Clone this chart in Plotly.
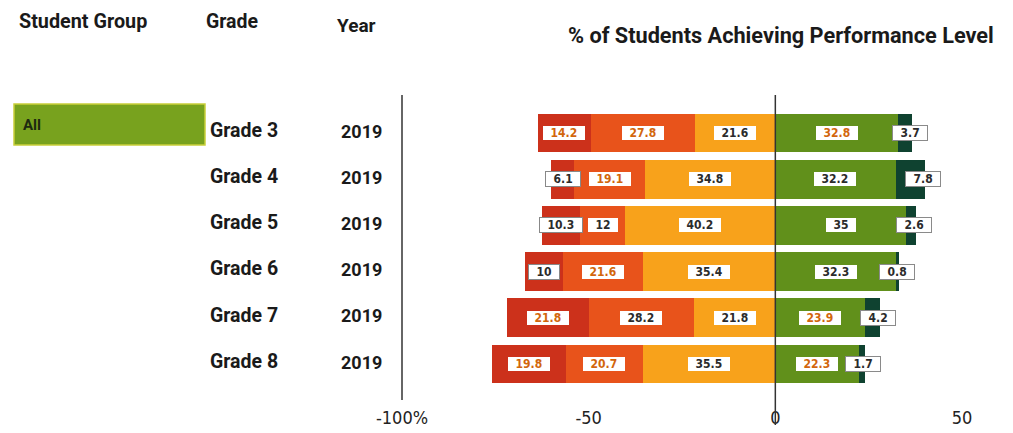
import plotly.graph_objects as go

grades = ["Grade 3", "Grade 4", "Grade 5", "Grade 6", "Grade 7", "Grade 8"]
years = ["2019", "2019", "2019", "2019", "2019", "2019"]
level1 = [14.2, 6.1, 10.3, 10, 21.8, 19.8]
level2 = [27.8, 19.1, 12, 21.6, 28.2, 20.7]
level3 = [21.6, 34.8, 40.2, 35.4, 21.8, 35.5]
level4 = [32.8, 32.2, 35, 32.3, 23.9, 22.3]
level5 = [3.7, 7.8, 2.6, 0.8, 4.2, 1.7]
tick_vals = [-100, -50, 0, 50]
tick_text = ["-100%", "-50", "0", "50"]

ORANGE_T = "#d2660c"
DARK_T = "#2b2b2b"
l1_tc = [ORANGE_T, DARK_T, DARK_T, DARK_T, ORANGE_T, ORANGE_T]
l2_tc = [ORANGE_T, ORANGE_T, DARK_T, ORANGE_T, DARK_T, ORANGE_T]
l3_tc = [DARK_T] * 6
l4_tc = [ORANGE_T, DARK_T, DARK_T, DARK_T, ORANGE_T, ORANGE_T]
l5_tc = [DARK_T] * 6

colors = {
    "l1": "#cc311b",
    "l2": "#e8531b",
    "l3": "#f8a21b",
    "l4": "#61901b",
    "l5": "#0f4230",
}

# page offset (default body margin of the html page)
OFF = 8
FIG_W, FIG_H = 1013 - OFF, 433 - OFF
PLOT_BOTTOM = 405  # window px
PLOT_H = PLOT_BOTTOM - OFF

ys = list(range(len(grades)))
fig = go.Figure()
bw = 0.84
fig.add_trace(go.Bar(y=ys, x=[-v for v in level3], orientation="h", marker=dict(color=colors["l3"], line_width=0), width=bw, name="Level 3"))
fig.add_trace(go.Bar(y=ys, x=[-v for v in level2], orientation="h", marker=dict(color=colors["l2"], line_width=0), width=bw, name="Level 2"))
fig.add_trace(go.Bar(y=ys, x=[-v for v in level1], orientation="h", marker=dict(color=colors["l1"], line_width=0), width=bw, name="Level 1"))
fig.add_trace(go.Bar(y=ys, x=level4, orientation="h", marker=dict(color=colors["l4"], line_width=0), width=bw, name="Level 4"))
fig.add_trace(go.Bar(y=ys, x=level5, orientation="h", marker=dict(color=colors["l5"], line_width=0), width=bw, name="Level 5"))

LBL_FONT = "Liberation Sans Narrow, DejaVu Sans Condensed, Arial Narrow, sans-serif"
annotations = []

def box(x, y, val, color, border=None):
    annotations.append(dict(
        x=x, y=y, xref="x", yref="y", text=f"&nbsp;&nbsp;{val}&nbsp;&nbsp;", showarrow=False,
        font=dict(family=LBL_FONT, size=12, color=color, weight="bold"),
        bgcolor="white", borderpad=0,
        bordercolor=border if border else "rgba(0,0,0,0)", borderwidth=1 if border else 0,
    ))

for i in ys:
    a3 = level3[i]
    a2 = level2[i]
    a1 = level1[i]
    box(-a3 / 2, i, level3[i], l3_tc[i])
    box(-(a3 + a2 / 2), i, level2[i], l2_tc[i])
    box(-(a3 + a2 + a1 / 2), i, level1[i], l1_tc[i], "#888888" if l1_tc[i] == DARK_T else None)
    box(level4[i] / 2, i, level4[i], l4_tc[i])
    box(level4[i] + level5[i] - 0.5, i, level5[i], l5_tc[i], "#8a8a8a")

HDR_FONT = "Roboto, Open Sans, sans-serif"

def py(pix):
    return 1 - (pix - OFF) / PLOT_H

def px(pix):
    return (pix - OFF) / FIG_W

annotations += [
    dict(x=px(17), y=py(21), xref="paper", yref="paper", xanchor="left", yanchor="middle", text="Student Group", showarrow=False,
         font=dict(family=HDR_FONT, size=19.8, color="#1a1a1a", weight="bold")),
    dict(x=px(204), y=py(22), xref="paper", yref="paper", xanchor="left", yanchor="middle", text="Grade", showarrow=False,
         font=dict(family=HDR_FONT, size=19.5, color="#1a1a1a", weight="bold")),
    dict(x=px(335), y=py(25), xref="paper", yref="paper", xanchor="left", yanchor="middle", text="Year", showarrow=False,
         font=dict(family=HDR_FONT, size=19, color="#1a1a1a", weight="bold")),
    dict(x=px(566), y=py(36), xref="paper", yref="paper", xanchor="left", yanchor="middle", text="% of Students Achieving Performance Level", showarrow=False,
         font=dict(family=HDR_FONT, size=21.7, color="#1a1a1a", weight="bold")),
    dict(x=px(21), y=py(125), xref="paper", yref="paper", xanchor="left", yanchor="middle", text="All", showarrow=False,
         font=dict(family=HDR_FONT, size=15, color="#1d2a10", weight="bold")),
]
for i in ys:
    annotations.append(dict(x=px(208), y=i - 0.06, xref="paper", yref="y", xanchor="left", yanchor="middle", text=grades[i], showarrow=False,
                            font=dict(family=HDR_FONT, size=19.5, color="#1a1a1a", weight="bold")))
    annotations.append(dict(x=px(339), y=i - 0.04, xref="paper", yref="y", xanchor="left", yanchor="middle", text=years[i], showarrow=False,
                            font=dict(family=HDR_FONT, size=18, color="#1a1a1a", weight="bold")))

shapes = [
    dict(type="rect", xref="paper", yref="paper", x0=px(14), x1=px(205), y0=py(145), y1=py(104),
         fillcolor="#78a21e", line=dict(color="#c9cf3a", width=1.5), layer="below"),
    dict(type="line", xref="x", yref="paper", x0=-100, x1=-100, y0=py(95), y1=py(400), line=dict(color="#333333", width=1.5)),
    dict(type="line", xref="x", yref="paper", x0=0, x1=0, y0=py(95), y1=py(425), line=dict(color="#333333", width=1.5), layer="above"),
]

# x mapping (window px): -100 -> 402, 50 -> 962
ppu = (962 - 402) / 150.0
x_min = -100 - (402 - OFF) / ppu
x_max = x_min + FIG_W / ppu
# y mapping (window px): row 0 centre at 133, step 46.2
step = 46.2
y_top = -(133 - OFF) / step
y_bot = y_top + PLOT_H / step

fig.update_layout(
    width=FIG_W, height=FIG_H,
    margin=dict(l=0, r=0, t=0, b=FIG_H - PLOT_H),
    barmode="relative",
    bargap=0,
    showlegend=False,
    plot_bgcolor="white", paper_bgcolor="white",
    xaxis=dict(range=[x_min, x_max], tickvals=tick_vals, ticktext=tick_text, showgrid=False, zeroline=False,
               showline=False, ticks="", tickfont=dict(family="Liberation Sans Narrow, DejaVu Sans Condensed, sans-serif", size=18, color="#222222")),
    yaxis=dict(range=[y_bot, y_top], showticklabels=False, showgrid=False, zeroline=False, showline=False, ticks=""),
    annotations=annotations,
    shapes=shapes,
)

fig.write_html("out.html")
